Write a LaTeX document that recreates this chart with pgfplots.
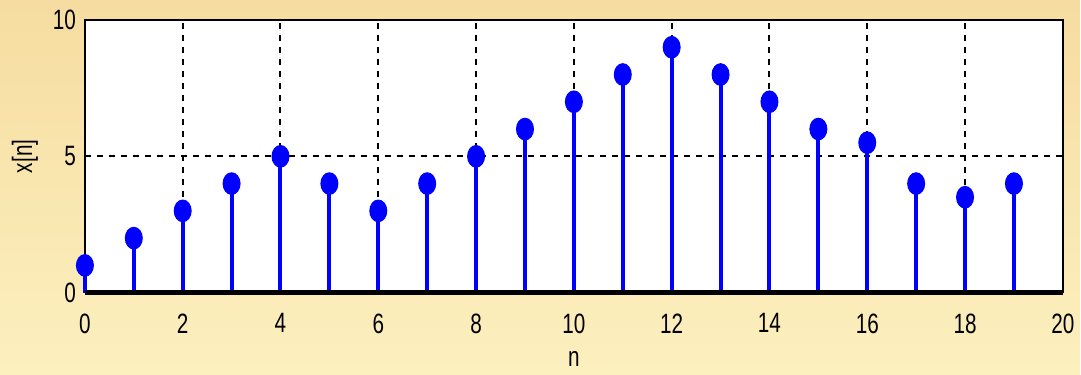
\documentclass[border=0pt]{standalone}
\usepackage{pgfplots}
\pgfplotsset{compat=1.18}
\usepackage{fontspec}
\setmainfont{Liberation Sans}[FakeStretch=0.74]
\definecolor{bgtop}{HTML}{F6DCA0}
\definecolor{bgbot}{HTML}{FCF0BF}
\begin{document}
\begin{tikzpicture}[x=1pt,y=1pt]
\shade[top color=bgtop, bottom color=bgbot] (0,0) rectangle (540.5,187.5);
\begin{axis}[
  at={(42.5pt,41pt)}, anchor=south west,
  scale only axis, width=489.5pt, height=136.5pt,
  xmin=0, xmax=20, ymin=0, ymax=10,
  xtick={0,2,...,20}, ytick={0,5,10},
  grid=major, grid style={black, line width=1pt, dash pattern=on 3pt off 3pt},
  axis background/.style={fill=white},
  axis line style={black, line width=0.8pt},
  major tick length=0pt,
  /pgf/number format/assume math mode=true,
  tick label style={font=\fontsize{14}{16}\selectfont},
  label style={font=\fontsize{14}{16}\selectfont},
  xticklabel style={yshift=-7pt},
  yticklabel style={xshift=-1pt},
  xlabel={n}, ylabel={x[n]},
  xlabel style={at={(axis description cs:0.5,0)}, anchor=north, yshift=-26pt},
  ylabel style={at={(axis description cs:0,0.5)}, anchor=south, yshift=20pt},
  clip=false,
]
\addplot[ycomb, color={rgb,255:red,0;green,0;blue,255}, line width=2pt,
  mark=*, mark size=4.2pt,
  mark options={yscale=1.28, line width=0.6pt, fill={rgb,255:red,0;green,0;blue,255}}]
  coordinates {
  (0,1) (1,2) (2,3) (3,4) (4,5) (5,4) (6,3) (7,4) (8,5) (9,6)
  (10,7) (11,8) (12,9) (13,8) (14,7) (15,6) (16,5.5) (17,4) (18,3.5) (19,4)
  };
\draw[black, line width=2.2pt] (axis cs:0,0) -- (axis cs:20,0);
\end{axis}
\end{tikzpicture}
\end{document}
